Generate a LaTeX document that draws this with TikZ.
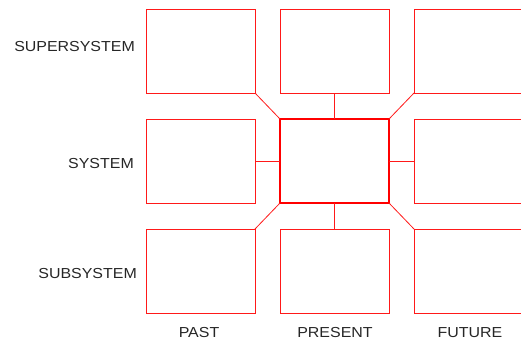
\documentclass[tikz,border=0pt]{standalone}
\usepackage{fontspec}
\setmainfont{Liberation Sans}
\begin{document}
\begin{tikzpicture}[x=1pt,y=-1pt,
  cell/.style={draw=red!90,line width=0.8pt,minimum width=109pt,minimum height=84pt,inner sep=0pt,outer sep=0pt},
  core/.style={draw=red,line width=1.8pt,minimum width=109pt,minimum height=84pt,inner sep=0pt,outer sep=0pt},
  link/.style={draw=red!90,line width=0.8pt},
  lbl/.style={text=black!85,font=\fontsize{14.5}{16}\selectfont,inner sep=0pt}]
\clip (0,0) rectangle (521,338);
\useasboundingbox (0,0) rectangle (521,338);
\node[cell] (tl) at (200.5,51) {};
\node[cell] (tc) at (334.5,51) {};
\node[cell] (tr) at (468.5,51) {};
\node[cell] (ml) at (200.5,161) {};
\node[core] (c) at (334.5,161) {};
\node[cell] (mr) at (468.5,161) {};
\node[cell] (bl) at (200.5,271) {};
\node[cell] (bc) at (334.5,271) {};
\node[cell] (br) at (468.5,271) {};
\draw[link] (c.north west) -- (tl.south east);
\draw[link] (c.north) -- (tc.south);
\draw[link] (c.north east) -- (tr.south west);
\draw[link] (c.west) -- (ml.east);
\draw[link] (c.east) -- (mr.west);
\draw[link] (c.south west) -- (bl.north east);
\draw[link] (c.south) -- (bc.north);
\draw[link] (c.south east) -- (br.north west);
\node[lbl,anchor=east] (sup) at (135,47) {\scalebox{1.1}[1]{SUPERSYSTEM}};
\node[lbl,anchor=east] (sys) at (134,164) {\scalebox{1.1}[1]{SYSTEM}};
\node[lbl,anchor=east] (sub) at (137,273.5) {\scalebox{1.1}[1]{SUBSYSTEM}};
\node[lbl,anchor=base] (past) at (199,337.5) {\scalebox{1.1}[1]{PAST}};
\node[lbl,anchor=base] (pres) at (335,337.5) {\scalebox{1.1}[1]{PRESENT}};
\node[lbl,anchor=base] (fut) at (470,337.5) {\scalebox{1.1}[1]{FUTURE}};
\end{tikzpicture}
\end{document}
